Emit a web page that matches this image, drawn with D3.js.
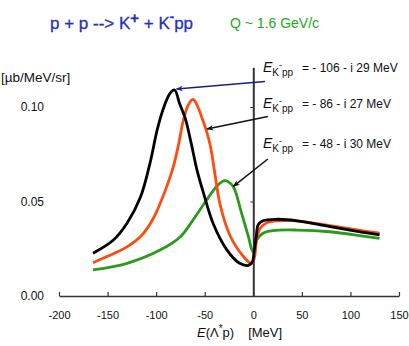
<!DOCTYPE html>
<html>
<head>
<meta charset="utf-8">
<script src="https://cdn.jsdelivr.net/npm/d3@7"></script>
<style>
  body { margin: 0; background: #fff; }
  svg { display: block; font-family: Arial, "Liberation Sans", sans-serif; }
</style>
</head>
<body>
<div id="chart"></div>
<script>
// spectrum data (E in MeV, cross section in µb/MeV/sr)
var blackE = [-165, -144, -130, -116, -106, -99, -92, -86, -81, -76, -70, -64, -58, -51, -41, -27, -14, -5, -1, 1, 3, 5, 10, 24, 45, 79, 113, 130];
var blackS = [0.0226, 0.0296, 0.0385, 0.0525, 0.071, 0.0878, 0.100, 0.107, 0.109, 0.102, 0.094, 0.081, 0.0667, 0.054, 0.038, 0.0243, 0.0173, 0.0162, 0.018, 0.024, 0.031, 0.0376, 0.0398, 0.0406, 0.0398, 0.0367, 0.0337, 0.0323];

var orangeE = [-165, -150, -130, -115, -103, -89, -82, -77, -72, -67, -62, -57, -52, -48, -44, -39, -34, -24, -10, -2, 1, 3.4, 7, 14, 27, 45, 79, 113, 130];
var orangeS = [0.0176, 0.021, 0.026, 0.032, 0.041, 0.058, 0.069, 0.080, 0.093, 0.101, 0.104, 0.100, 0.093, 0.087, 0.079, 0.063, 0.048, 0.032, 0.0208, 0.0173, 0.020, 0.0296, 0.0358, 0.0388, 0.0398, 0.0398, 0.0372, 0.0345, 0.0332];

var greenE = [-165, -130, -96, -75, -62, -48, -38, -32, -29, -26, -20.5, -12, -5, -0.5, 3.4, 10, 20, 45, 79, 113, 130];
var greenS = [0.0138, 0.0173, 0.0243, 0.0314, 0.0402, 0.0508, 0.0578, 0.0605, 0.061, 0.0605, 0.0578, 0.0437, 0.0314, 0.0235, 0.0296, 0.0332, 0.0346, 0.0349, 0.034, 0.0317, 0.0305];

var xTicks = [-200, -150, -100, -50, 0, 50, 100, 150];
var yTicks = [0, 0.05, 0.10];

// pole energies, and the point on each curve the arrow points to
var poleReal = ["- 106", "- 86", "- 48"];
var poleImag = ["29", "27", "30"];
var arrowTip = [[-79, 0.1095], [-47.6, 0.0884], [-20.5, 0.058]];
var arrowTail = [[12, 0.1135], [15, 0.095], [15, 0.0725]];
var arrowColor = ["#1c1c8a", "#111", "#111"];

var W = 409, H = 346;
var svg = d3.select("#chart").append("svg")
  .attr("width", W)
  .attr("height", H);

var x = d3.scaleLinear().domain([-200, 150]).range([59, 399]);
var y = d3.scaleLinear().domain([0, 0.121]).range([296, 296 - 0.121 * 1890]);

// x axis, ticks pointing up
svg.append("g")
  .attr("transform", "translate(0," + y(0) + ")")
  .call(d3.axisBottom(x).tickValues(xTicks).tickFormat(d => String(d))
    .tickSizeInner(-4).tickSizeOuter(0).tickPadding(15))
  .call(g => g.select(".domain").attr("stroke", "#333").attr("stroke-width", 1.5))
  .call(g => g.selectAll(".tick line").attr("stroke", "#333").attr("stroke-width", 1.2))
  .call(g => g.selectAll("text").attr("font-size", 11).attr("fill", "#111").attr("font-family", "Arial, 'Liberation Sans', sans-serif"));

// y axis sits at E = 0, labels far left
svg.append("g")
  .attr("transform", "translate(" + x(0) + ",0)")
  .call(d3.axisLeft(y).tickValues(yTicks).tickFormat(d3.format(".2f")).tickSizeInner(3).tickSizeOuter(0).tickPadding(x(0) - 47))
  .call(g => g.select(".domain").attr("stroke", "#333").attr("stroke-width", 2))
  .call(g => g.selectAll(".tick line").attr("stroke", "#333"))
  .call(g => g.selectAll("text").attr("font-size", 12).attr("fill", "#111").attr("font-family", "Arial, 'Liberation Sans', sans-serif"));

var line = d3.line()
  .x(d => x(d[0]))
  .y(d => y(d[1]))
  .curve(d3.curveCatmullRom.alpha(0.5));

var series = [
  { E: greenE, S: greenS, color: "#2b9a1c" },
  { E: orangeE, S: orangeS, color: "#ff4a10" },
  { E: blackE, S: blackS, color: "#000" }
];

series.forEach(function (s) {
  svg.append("path")
    .datum(d3.zip(s.E, s.S))
    .attr("fill", "none")
    .attr("stroke", s.color)
    .attr("stroke-width", 2.8)
    .attr("stroke-linejoin", "round")
    .attr("d", line);
});

// arrow heads
var defs = svg.append("defs");
arrowColor.forEach(function (c, i) {
  defs.append("marker")
    .attr("id", "head" + i)
    .attr("viewBox", "0 -5 10 10")
    .attr("refX", 9)
    .attr("refY", 0)
    .attr("markerWidth", 9)
    .attr("markerHeight", 7)
    .attr("markerUnits", "userSpaceOnUse")
    .attr("orient", "auto")
    .append("path")
    .attr("d", "M0,-4L10,0L0,4L3,0Z")
    .attr("fill", c);
});

arrowTip.forEach(function (t, i) {
  svg.append("line")
    .attr("x1", x(arrowTail[i][0]))
    .attr("y1", y(arrowTail[i][1]))
    .attr("x2", x(t[0]))
    .attr("y2", y(t[1]))
    .attr("stroke", arrowColor[i])
    .attr("stroke-width", 1.5)
    .attr("marker-end", "url(#head" + i + ")");
});

// pole labels
var labelY = [72, 108, 148];
poleReal.forEach(function (re, i) {
  var t = svg.append("text")
    .attr("x", 263)
    .attr("y", labelY[i])
    .attr("fill", "#111")
    .attr("font-size", 12);
  t.append("tspan").attr("font-style", "italic").attr("font-size", 14).text("E");
  t.append("tspan").attr("font-size", 10).attr("dy", 4).text("K");
  t.append("tspan").attr("font-size", 9).attr("dy", -8).text("-");
  t.append("tspan").attr("font-size", 10).attr("dy", 8).text("pp");
  t.append("tspan").attr("x", 302).attr("dy", -4)
    .text("= " + re + " - i " + poleImag[i] + " MeV");
});

// titles
var title = svg.append("text")
  .attr("x", 50)
  .attr("y", 29)
  .attr("fill", "#2430c0")
  .attr("font-size", 17)
  .attr("stroke", "#2430c0")
  .attr("stroke-width", 0.3);
title.append("tspan").text("p + p --> K");
title.append("tspan").attr("dy", -6).attr("font-weight", "bold").attr("font-size", 15).text("+");
title.append("tspan").attr("dy", 6).text(" + K");
title.append("tspan").attr("dy", -8).attr("font-weight", "bold").attr("font-size", 13).text("-");
title.append("tspan").attr("dy", 8).text("pp");

svg.append("text")
  .attr("x", 230)
  .attr("y", 28)
  .attr("fill", "#22a81a")
  .attr("font-size", 14)
  .text("Q ~ 1.6 GeV/c");

svg.append("text")
  .attr("x", 1)
  .attr("y", 82)
  .attr("fill", "#111")
  .attr("font-size", 13.5)
  .text("[\u00b5b/MeV/sr]");

var xl = svg.append("text")
  .attr("x", 197)
  .attr("y", 337)
  .attr("fill", "#111")
  .attr("font-size", 13);
xl.append("tspan").attr("font-style", "italic").text("E");
xl.append("tspan").text("(\u039b");
xl.append("tspan").attr("dy", -5).attr("font-size", 10).text("*");
xl.append("tspan").attr("dy", 5).text("p)");
xl.append("tspan").attr("dx", 14).text("[MeV]");
</script>
</body>
</html>
